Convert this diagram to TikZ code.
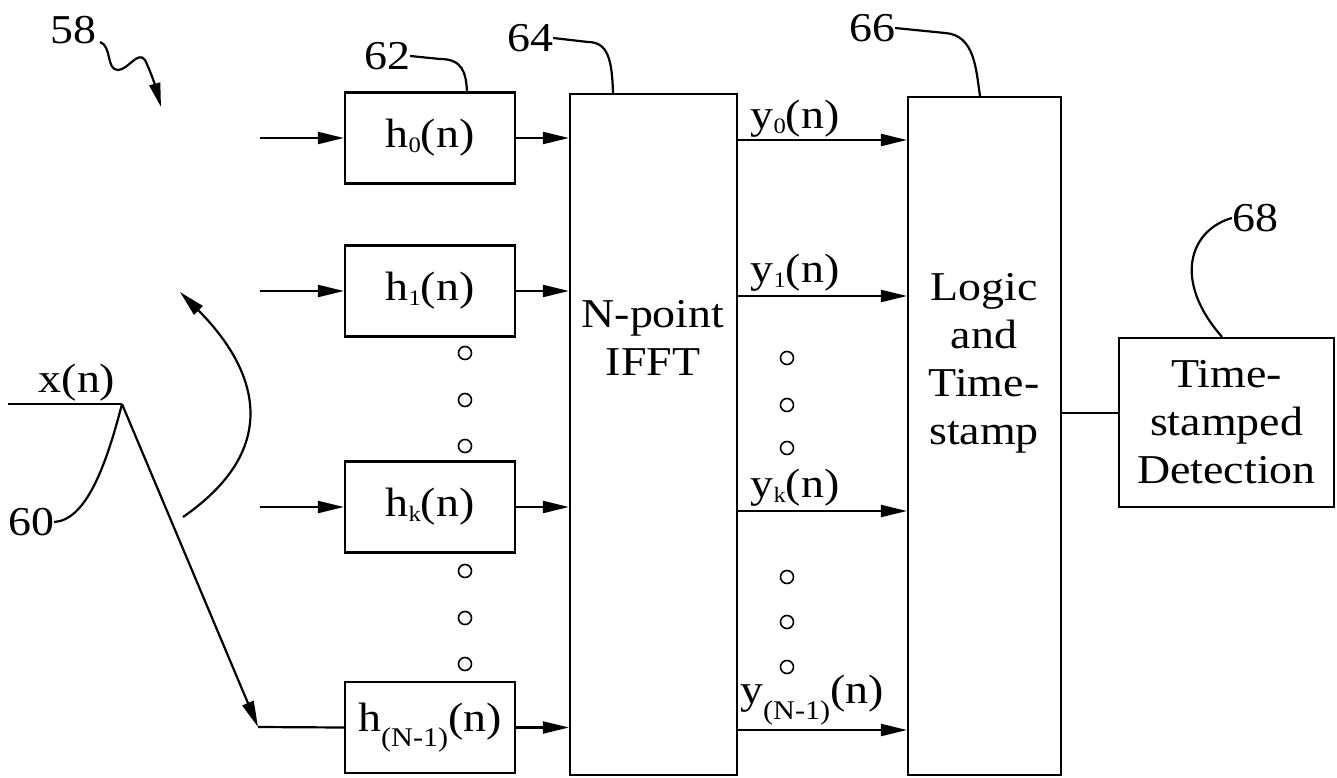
\documentclass[tikz,border=0pt]{standalone}
\usepackage{fontspec}
\setmainfont{Liberation Serif}[FakeStretch=1.12]
\usetikzlibrary{arrows.meta}
\newcommand\hsub[1]{\raisebox{-0.12em}{\fontsize{22}{22}\selectfont #1}}
\newcommand\bigsub[1]{\raisebox{-0.38em}{\fontsize{27}{27}\selectfont #1}}
\tikzset{
  ln/.style={line width=2.2pt},
  arr/.style={ln,-{Triangle[length=26pt,width=12pt]}},
  box/.style={draw,ln,inner sep=0pt,minimum width=170pt,minimum height=91pt},
  txt/.style={inner sep=0pt,font=\fontsize{41}{48}\selectfont,align=center},
  dotc/.style={draw,line width=1.6pt,circle,minimum size=13pt,inner sep=0pt},
}
\begin{document}
\begin{tikzpicture}[x=1pt,y=-1pt]
\useasboundingbox (0,0) rectangle (1337,778);
% filter boxes
\node[box,txt] (h0) at (430,138) {h\hsub{0}(n)};
\node[box,txt] (h1) at (430,291) {h\hsub{1}(n)};
\node[box,txt] (hk) at (430,507) {h\hsub{k}(n)};
\node[box,txt] (hN) at (430,727.5) {h\bigsub{(N-1)}(n)};
% big blocks
\node[draw,ln,minimum width=167pt,minimum height=681pt,inner sep=0pt] (fft) at (653.5,434.5) {};
\node[txt] (ffttxt) at (653,338) {N-point\\IFFT};
\node[draw,ln,minimum width=153pt,minimum height=678pt,inner sep=0pt] (logic) at (984.5,436) {};
\node[txt] (logictxt) at (984,363) {Logic\\and\\Time-\\stamp};
\node[draw,ln,txt,minimum width=215pt,minimum height=169pt] (tsd) at (1226.5,422.5) {Time-\\stamped\\Detection};
% input arrows
\coordinate (i0) at (260,138);
\coordinate (i1) at (260,291);
\coordinate (ik) at (260,507);
\draw[arr] (i0) -- (h0.west);
\draw[arr] (i1) -- (h1.west);
\draw[arr] (ik) -- (hk.west);
% filter -> fft
\draw[arr] (h0.east) -- (h0.east -| fft.west);
\draw[arr] (h1.east) -- (h1.east -| fft.west);
\draw[arr] (hk.east) -- (hk.east -| fft.west);
\draw[arr] (hN.east) -- (hN.east -| fft.west);
% fft -> logic
\coordinate (r0) at (0,140);
\coordinate (r1) at (0,296);
\coordinate (rk) at (0,511);
\coordinate (rN) at (0,730);
\draw[arr] (fft.east |- r0) -- (logic.west |- r0);
\draw[arr] (fft.east |- r1) -- (logic.west |- r1);
\draw[arr] (fft.east |- rk) -- (logic.west |- rk);
\draw[arr] (fft.east |- rN) -- (logic.west |- rN);
% output labels
\node[txt] (ly0) at (795,119) {y\hsub{0}(n)};
\node[txt] (ly1) at (795,273) {y\hsub{1}(n)};
\node[txt] (lyk) at (795,488) {y\hsub{k}(n)};
\node[txt] (lyN) at (812,700) {y\bigsub{(N-1)}(n)};
% logic -> tsd
\coordinate (r5) at (0,413);
\draw[ln] (logic.east |- r5) -- (tsd.west |- r5);
% dots
\foreach \n/\y in {a/353,b/400,c/446,d/571,e/618,f/664}{
  \node[dotc] (dl\n) at (465,\y) {};
}
\foreach \n/\y in {a/358,b/405,c/448,d/577,e/622,f/667}{
  \node[dotc] (dr\n) at (787,\y) {};
}
% input switch
\coordinate (xs) at (8,404);
\coordinate (sw) at (122,404);
\coordinate (tip) at (258,727);
\node[txt] (xn) at (77,383) {x(n)};
\draw[ln] (xs) -- (sw);
\draw[arr] (sw) -- (tip);
\draw[ln] (tip) -- (hN.west);
% curved rotation arrow
\coordinate (ca) at (183,517);
\coordinate (cb) at (180,292);
\draw[arr] (ca) .. controls (290,443) and (250,362) .. (cb);
% reference labels
\node[txt] (n58) at (73,30) {58};
\node[txt] (n60) at (31,522) {60};
\node[txt] (n62) at (387,56) {62};
\node[txt] (n64) at (530,38) {64};
\node[txt] (n66) at (872,28) {66};
\node[txt] (n68) at (1255,218) {68};
\coordinate (t58) at (161,107);
\draw[ln,-{Triangle[length=24pt,width=11pt]}] (100,42) .. controls (112,46) and (106,70) .. (118,70) .. controls (128,70) and (138,50) .. (145,60) .. controls (150,70) and (155,85) .. (t58);
\draw[ln] (n60.east) .. controls (85,520) and (105,470) .. (sw);
\draw[ln] (n62.east) -- (440,59) .. controls (462,59) and (466,72) .. (h0.north -| 467,0);
\draw[ln] (n64.east) -- (588,42) .. controls (608,42) and (612,60) .. (fft.north -| 613,0);
\draw[ln] (n66.east) -- (945,33) .. controls (975,35) and (976,70) .. (logic.north -| 980,0);
\draw[ln] (n68.west) .. controls (1190,230) and (1172,280) .. (tsd.north -| 1222,0);
\end{tikzpicture}
\end{document}
